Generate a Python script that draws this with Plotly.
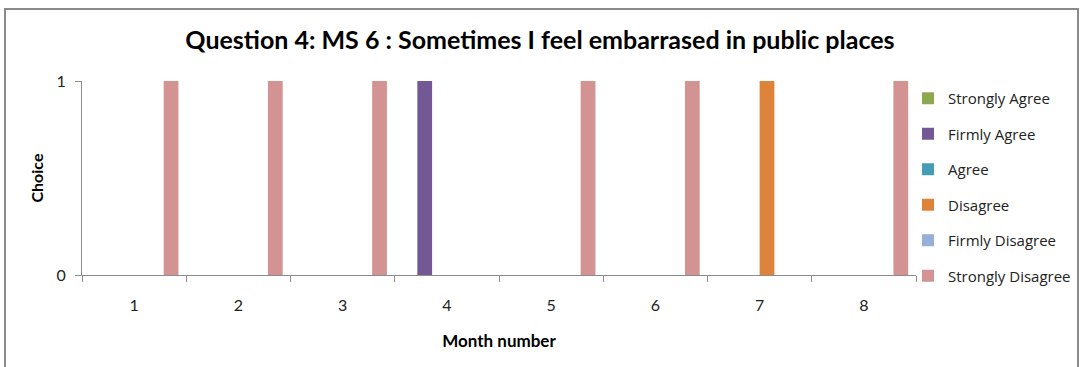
import plotly.graph_objects as go

months = ["1", "2", "3", "4", "5", "6", "7", "8"]
series_names = ["Strongly Agree", "Firmly Agree", "Agree", "Disagree", "Firmly Disagree", "Strongly Disagree"]
strongly_agree = [0, 0, 0, 0, 0, 0, 0, 0]
firmly_agree = [0, 0, 0, 1, 0, 0, 0, 0]
agree = [0, 0, 0, 0, 0, 0, 0, 0]
disagree = [0, 0, 0, 0, 0, 0, 1, 0]
firmly_disagree = [0, 0, 0, 0, 0, 0, 0, 0]
strongly_disagree = [1, 1, 1, 0, 1, 1, 0, 1]
colors = ["#8BAA4E", "#735895", "#459DB4", "#DD843A", "#97AFD6", "#D39393"]
values = [strongly_agree, firmly_agree, agree, disagree, firmly_disagree, strongly_disagree]

FONT = "Lato"
fig = go.Figure()
for i, (name, vals, col) in enumerate(zip(series_names, values, colors)):
    fig.add_trace(go.Bar(x=months, y=vals, name=name, marker_color=col,
                         marker_line_width=0, legendgroup=f"g{i}"))

W, H = 1080, 367
L, R, T, B = 82, 916, 81, 275

fig.update_layout(
    width=W, height=H,
    margin=dict(l=L, r=W - R, t=T, b=H - B, autoexpand=False),
    paper_bgcolor="white", plot_bgcolor="white",
    barmode="group", bargap=0.15, bargroupgap=0,
    font=dict(family=FONT, color="#222"),
    title=dict(text="<b>Question 4: MS 6 : Sometimes I feel embarrased in public places</b>",
               x=0.5, xanchor="center", y=1 - 40 / H, yanchor="middle",
               font=dict(size=25, family=FONT, color="black")),
    legend=dict(x=(908 - L) / (R - L), xanchor="left", y=1 - (82 - T) / (B - T), yanchor="top",
                font=dict(size=15, family="Open Sans", color="#222"), tracegroupgap=13,
                traceorder="grouped", bgcolor="rgba(0,0,0,0)", maxheight=400),
    showlegend=True,
)
fig.update_xaxes(type="category", tickson="boundaries", ticks="outside", ticklen=6,
                 tickcolor="#8c8c8c", showline=True, linecolor="#8c8c8c", linewidth=1,
                 showgrid=False, tickfont=dict(size=16, family=FONT, color="#222"),
                 ticklabelstandoff=16,
                 title=dict(text="<b>Month number</b>", font=dict(size=17, family=FONT, color="black"),
                            standoff=21))
fig.update_yaxes(range=[0, 1], tickvals=[0, 1], ticktext=["0", "1"], ticks="outside", ticklen=6,
                 tickcolor="#8c8c8c", showline=True, linecolor="#8c8c8c", linewidth=1,
                 showgrid=True, gridcolor="#8c8c8c", gridwidth=1, zeroline=False,
                 tickfont=dict(size=16, family=FONT, color="#222"), ticklabelstandoff=6,
                 title=dict(text="<b>Choice</b>", font=dict(size=16, family=FONT, color="black"),
                            standoff=8))

# outer chart border
fig.add_shape(type="rect", xref="paper", yref="paper",
              x0=(5 - L) / (R - L), x1=(1078 - L) / (R - L),
              y0=(B - 380) / (B - T), y1=(B - 9) / (B - T),
              line=dict(color="#8a8a8a", width=2), fillcolor="rgba(0,0,0,0)", layer="below")

fig.write_html("out.html", config={"displayModeBar": False},
               post_script="document.body.style.margin='0';document.body.style.overflow='hidden';")
